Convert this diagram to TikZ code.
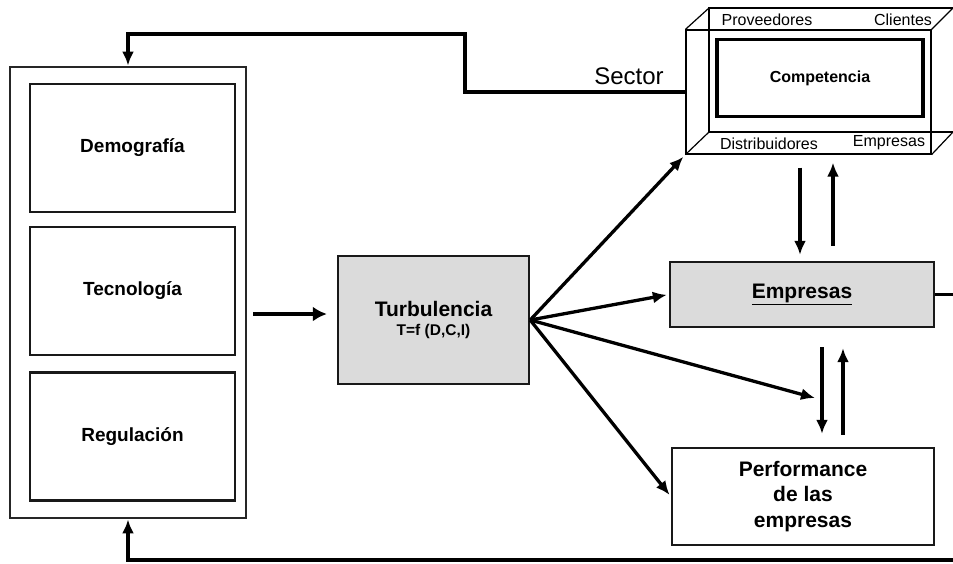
\documentclass[tikz,border=0pt]{standalone}
\usepackage{fontspec}
\setmainfont{Liberation Sans}
\usetikzlibrary{arrows.meta}

\begin{document}
\begin{tikzpicture}[x=1pt, y=-1pt]
 \tikzstyle{marco}=[draw=black!85, line width=2.8pt, dash pattern=on 0.6pt off 0.4pt, minimum width=236pt, minimum height=451pt, inner sep=0pt]
 \tikzstyle{caja}=[draw=black!90, line width=2.4pt, minimum width=205pt, minimum height=128pt, inner sep=0pt, font=\fontsize{19}{22}\selectfont\bfseries]
 \tikzstyle{gris}=[caja, fill=black!14]
 \tikzstyle{alambre}=[draw, line width=1.2pt]
 \tikzstyle{etiq}=[inner sep=0pt, font=\fontsize{16}{19}\selectfont]
 \tikzstyle{flecha}=[-{Latex[length=14pt, width=12pt]}, line width=3.3pt]
 \tikzstyle{retro}=[-{Latex[length=14pt, width=12pt]}, line width=3.3pt]
 \useasboundingbox (0,0) rectangle (953,563);
 %
 \node[marco] (entorno) at (128, 292.5) {};
 \node[caja] (demo) at (132.5, 148) {Demografía};
 \node[caja] (tecno) at (132.5, 291) {Tecnología};
 \node[caja] (regul) at (132.5, 436.5) {Regulación};
 %
 \node[gris, minimum width=191pt, align=center] (turb) at (433.5, 320) {\fontsize{21}{24}\selectfont Turbulencia\\[-3pt]\fontsize{15.5}{18}\selectfont T=f (D,C,I)};
 \node[gris, minimum width=264pt, minimum height=65pt, font=\fontsize{21}{24}\selectfont\bfseries] (emp) at (802, 294.5) {\underline{Empresas}};
 \node[caja, minimum width=262pt, minimum height=97pt, align=center, font=\fontsize{21}{25.5}\selectfont\bfseries] (perf) at (803, 496.5) {Performance\\de las\\empresas};
 %
 \draw[alambre] (953, 8) -- (709, 8) -- (709, 132) -- (953, 132);
 \node[alambre, minimum width=245pt, minimum height=124pt, inner sep=0pt] (sector) at (808.5, 92) {};
 \draw[alambre] (sector.north west) -- (709, 8);
 \draw[alambre] (sector.south west) -- (709, 132);
 \draw[alambre] (sector.north east) -- (953, 8);
 \draw[alambre] (sector.south east) -- (953, 132);
 \node[draw, line width=3.2pt, minimum width=206pt, minimum height=77pt, inner sep=0pt, font=\fontsize{16}{19}\selectfont\bfseries] (compe) at (820, 78) {Competencia};
 \node[etiq] (prov) at (767, 20) {Proveedores};
 \node[etiq] (cli) at (903, 20) {Clientes};
 \node[etiq] (dist) at (769, 144) {Distribuidores};
 \node[etiq] (empr) at (889, 143) {Empresas};
 \node[inner sep=0pt, font=\fontsize{24}{28}\selectfont] (sec) at (629, 76) {Sector};
 %
 \coordinate (c1) at (465, 34);
 \coordinate (c2) at (953, 560);
 \coordinate (p1) at (815, 398);
 %%
 \draw[-{Latex[length=14pt, width=15pt]}, line width=4.6pt, shorten <=6pt, shorten >=10pt] (entorno.east |- 0,314) -- (turb.west |- 0,314);
 \draw[flecha, shorten >=3pt] (turb.east) -- (sector.south west);
 \draw[flecha, shorten >=2pt] (turb.east) -- (emp.west);
 \draw[flecha] (turb.east) -- (p1);
 \draw[flecha, shorten >=2pt] (turb.east) -- (perf.west);
 %
 \draw[flecha, shorten <=13pt, shorten >=6pt] ([xshift=-8.5pt]sector.south) -- ([xshift=-8.5pt]sector.south |- emp.north);
 \draw[flecha, shorten <=15pt, shorten >=8pt] ([xshift=24.5pt]sector.south |- emp.north) -- ([xshift=24.5pt]sector.south);
 \draw[flecha, shorten <=19pt, shorten >=13pt] ([xshift=20pt]emp.south) -- ([xshift=20pt]emp.south |- perf.north);
 \draw[flecha, shorten <=12pt, shorten >=20pt] ([xshift=41pt]emp.south |- perf.north) -- ([xshift=41pt]emp.south);
 %
 \draw[retro] (sector.west) -| (c1) -| (entorno.north);
 \draw[retro] (c2) -| (entorno.south);
 \draw[line width=3.3pt] (emp.east) -- (emp.east -| c2);
\end{tikzpicture}
\end{document}
